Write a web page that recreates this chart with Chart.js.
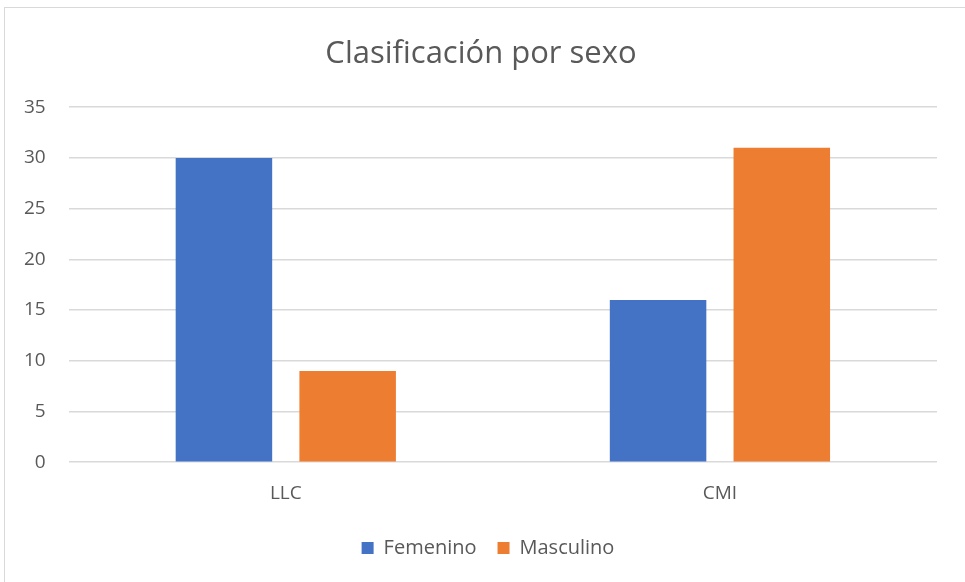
<!DOCTYPE html>
<html>
<head>
<meta charset="utf-8">
<script src="https://cdn.jsdelivr.net/npm/chart.js@4.4.0/dist/chart.umd.min.js"></script>
<style>
  html, body { margin: 0; padding: 0; background: #fff; }
  #wrap { position: relative; width: 965px; height: 582px; }
  #frame { position: absolute; left: 4px; top: 7px; right: -2px; bottom: -2px; border: 1px solid #d9d9d9; }
  canvas { position: absolute; left: 0; top: 0; }
</style>
</head>
<body>
<div id="wrap">
  <div id="frame"></div>
  <canvas id="chart" width="965" height="582"></canvas>
</div>
<script>
const categories = ['LLC', 'CMI'];
const femenino = [30, 16];
const masculino = [9, 31];
const seriesNames = ['Femenino', 'Masculino'];

const textColor = '#595959';
const fontFamily = '"Open Sans", sans-serif';

// nudge title and legend a bit right, like the original
const shiftBoxes = {
    id: 'shiftBoxes',
    afterLayout(chart) {
        chart.titleBlock.left += 12;
        chart.titleBlock.right += 12;
        chart.legend.left += 19;
        chart.legend.right += 19;
    }
};

new Chart(document.getElementById('chart'), {
    type: 'bar',
    data: {
        labels: categories,
        datasets: [
            { label: seriesNames[0], data: femenino, backgroundColor: '#4472C4' },
            { label: seriesNames[1], data: masculino, backgroundColor: '#ED7D31' }
        ]
    },
    options: {
        responsive: false,
        animation: false,
        layout: { padding: { left: 1, right: 28, top: 8, bottom: 14 } },
        categoryPercentage: 0.57,
        barPercentage: 0.78,
        plugins: {
            title: {
                display: true,
                text: 'Clasificación por sexo',
                color: textColor,
                font: { family: fontFamily, size: 31, weight: 'normal' },
                padding: { top: 28, bottom: 34 }
            },
            legend: {
                position: 'bottom',
                labels: {
                    color: textColor,
                    boxWidth: 12,
                    boxHeight: 12,
                    padding: 21,
                    font: { family: fontFamily, size: 20 }
                }
            },
            tooltip: { enabled: false }
        },
        scales: {
            x: {
                grid: { display: false },
                border: { display: false },
                ticks: { color: textColor, padding: 12, font: { family: fontFamily, size: 19 } }
            },
            y: {
                min: 0,
                max: 35,
                ticks: { stepSize: 5, color: textColor, padding: 23, font: { family: fontFamily, size: 19 } },
                grid: { color: '#d9d9d9', lineWidth: 1.5, drawTicks: false },
                border: { display: false }
            }
        }
    },
    plugins: [shiftBoxes]
});
</script>
</body>
</html>
